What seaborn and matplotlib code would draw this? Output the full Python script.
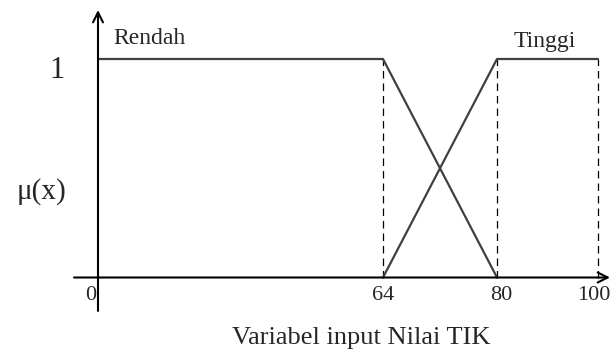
import numpy as np
import matplotlib
matplotlib.use("Agg")
import matplotlib.pyplot as plt
import seaborn as sns

# membership functions (input: Nilai TIK)
ticks = [0, 64, 80, 100]
tick_labels = ["0", "64", "80", "100"]
rendah_x = [0, 64, 80]
rendah_y = [1, 1, 0]
tinggi_x = [64, 80, 100]
tinggi_y = [0, 1, 1]
dash_x = [64, 80, 100]

# the sketch is not drawn to scale: pixel offsets of each break point from the y axis
tick_pos = [0, 285, 399, 500]


def _piecewise(src, dst):
    s0 = (dst[1] - dst[0]) / (src[1] - src[0])
    s1 = (dst[-1] - dst[-2]) / (src[-1] - src[-2])

    def f(v):
        v = np.asarray(v, dtype=float)
        return np.where(v < src[0], dst[0] + (v - src[0]) * s0,
                        np.where(v > src[-1], dst[-1] + (v - src[-1]) * s1,
                                 np.interp(v, src, dst)))
    return f


fwd = _piecewise(ticks, tick_pos)
inv = _piecewise(tick_pos, ticks)

sns.set_style("white")
plt.rcParams["font.family"] = ["Liberation Serif", "DejaVu Serif"]

fig = plt.figure(figsize=(6.14, 3.52), dpi=100)
ax = fig.add_axes([0, 0, 1, 1])
ax.set_xscale("function", functions=(fwd, inv))
ax.set_xlim(inv(-98), inv(516))
ax.set_ylim(-74.5 / 218.5, 1 + 59 / 218.5)
ax.axis("off")

# axes with arrow heads
ax.annotate("", xy=(inv(512), 0), xytext=(inv(-24), 0),
            arrowprops=dict(arrowstyle="->", lw=1.5, color="black", mutation_scale=18,
                            shrinkA=0, shrinkB=0))
ax.annotate("", xy=(0, 1.224), xytext=(0, -0.153),
            arrowprops=dict(arrowstyle="->", lw=1.5, color="black", mutation_scale=18,
                            shrinkA=0, shrinkB=0))

ax.vlines(dash_x, 0, 1, colors="black", lw=0.9, linestyles=(0, (6, 4)))

sns.lineplot(x=rendah_x, y=rendah_y, ax=ax, color="#404040", lw=1.6)
sns.lineplot(x=tinggi_x, y=tinggi_y, ax=ax, color="#404040", lw=1.6)

for t, lab in zip(ticks, tick_labels):
    dx = {0: -2, 80: 4, 100: -4}.get(t, 0)
    ax.annotate(lab, xy=(t, 0), xytext=(dx, -22.5), textcoords="offset pixels",
                ha="right" if t == 0 else "center", va="baseline", fontsize=16)

ax.annotate("Rendah", xy=(0, 1), xytext=(51, 20), textcoords="offset pixels",
            ha="center", va="center", fontsize=17)
ax.annotate("Tinggi", xy=(100, 1), xytext=(-53, 17), textcoords="offset pixels",
            ha="center", va="center", fontsize=17)
ax.annotate("1", xy=(0, 1), xytext=(-41, -11), textcoords="offset pixels",
            ha="center", va="center", fontsize=22)
ax.annotate("μ(x)", xy=(0, 0.5), xytext=(-57, -23), textcoords="offset pixels",
            ha="center", va="center", fontsize=21)

fig.text(361.7 / 614, 1 - 344 / 352, "Variabel input Nilai TIK",
         ha="center", va="baseline", fontsize=19)

fig.savefig("out.png", dpi=100)
